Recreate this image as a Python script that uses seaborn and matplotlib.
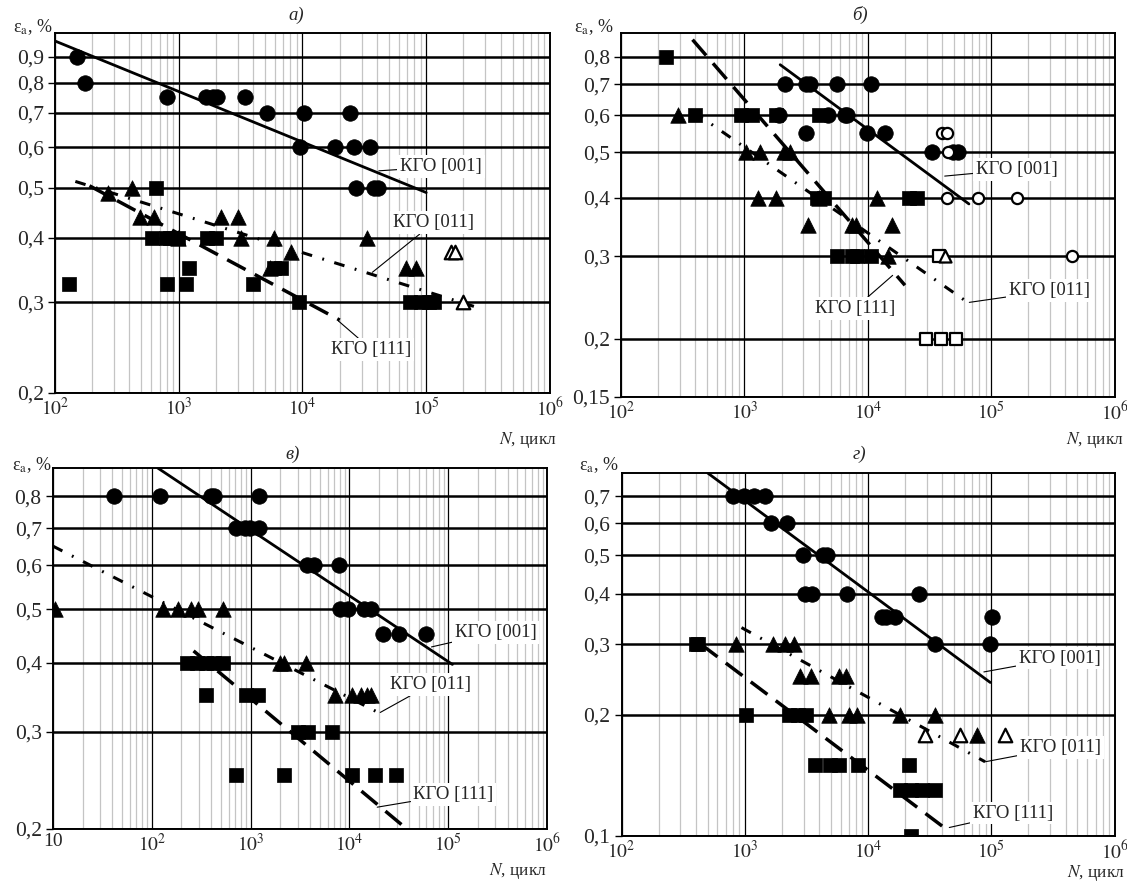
import matplotlib
matplotlib.use('Agg')
import matplotlib.pyplot as plt
import seaborn as sns
from matplotlib.ticker import FixedLocator, NullFormatter, NullLocator, LogLocator, FixedFormatter

sns.set_style('white')
plt.rcParams['font.family'] = ['Liberation Serif', 'DejaVu Serif']
plt.rcParams['mathtext.fontset'] = 'stix'

# ---------- panel a) ----------
a_circ_n = [150, 175, 800, 1650, 1900, 2050, 3450, 5150, 10300, 24000, 9600, 18300, 26000, 35000, 27000, 38000, 41000]
a_circ_e = [0.9, 0.8, 0.75, 0.75, 0.75, 0.75, 0.75, 0.7, 0.7, 0.7, 0.6, 0.6, 0.6, 0.6, 0.5, 0.5, 0.5]
a_tri_n = [270, 420, 490, 630, 2200, 3000, 980, 3200, 5900, 8100, 33000, 5500, 68000, 83000]
a_tri_e = [0.49, 0.5, 0.44, 0.44, 0.44, 0.44, 0.4, 0.4, 0.4, 0.375, 0.4, 0.35, 0.35, 0.35]
a_otri_n = [160000, 170000, 200000]
a_otri_e = [0.375, 0.375, 0.3]
a_sq_n = [660, 130, 610, 790, 850, 980, 1700, 2000, 800, 1150, 1200, 4000, 5900, 6700, 9300, 74000, 91000, 105000, 115000]
a_sq_e = [0.5, 0.325, 0.4, 0.4, 0.4, 0.4, 0.4, 0.4, 0.325, 0.325, 0.35, 0.325, 0.35, 0.35, 0.3, 0.3, 0.3, 0.3, 0.3]
a_001_n, a_001_e = [100, 100000], [0.965, 0.49]
a_011_n, a_011_e = [146, 260000], [0.515, 0.293]
a_111_n, a_111_e = [190, 20000], [0.505, 0.277]
a_yticks = [0.2, 0.3, 0.4, 0.5, 0.6, 0.7, 0.8, 0.9]

# ---------- panel б) ----------
b_circ_n = [2150, 3150, 3400, 5650, 10700, 1900, 4800, 6500, 6800, 3150, 9800, 13800, 33000, 49000, 54000]
b_circ_e = [0.7, 0.7, 0.7, 0.7, 0.7, 0.6, 0.6, 0.6, 0.6, 0.55, 0.55, 0.55, 0.5, 0.5, 0.5]
b_ocirc_n = [40000, 44000, 45000, 44000, 78000, 162000, 450000]
b_ocirc_e = [0.55, 0.55, 0.5, 0.4, 0.4, 0.4, 0.3]
b_tri_n = [290, 1040, 1350, 2100, 2350, 1280, 1820, 4000, 11800, 3300, 7450, 8000, 15800, 14700]
b_tri_e = [0.6, 0.5, 0.5, 0.5, 0.5, 0.4, 0.4, 0.4, 0.4, 0.35, 0.35, 0.35, 0.35, 0.3]
b_otri_n = [42000]
b_otri_e = [0.3]
b_sq_n = [233, 395, 940, 1150, 1820, 4000, 3900, 4400, 21500, 25000, 5600, 7500, 8200, 10700]
b_sq_e = [0.8, 0.6, 0.6, 0.6, 0.6, 0.6, 0.4, 0.4, 0.4, 0.4, 0.3, 0.3, 0.3, 0.3]
b_osq_n = [38000, 29500, 39500, 51500]
b_osq_e = [0.3, 0.2, 0.2, 0.2]
b_001_n, b_001_e = [1950, 66000], [0.77, 0.388]
b_011_n, b_011_e = [390, 66000], [0.61, 0.238]
b_111_n, b_111_e = [380, 20000], [0.871, 0.26]
b_yticks = [0.15, 0.2, 0.3, 0.4, 0.5, 0.6, 0.7, 0.8]

# ---------- panel в) ----------
c_circ_n = [42, 120, 400, 430, 1230, 710, 870, 980, 1230, 3700, 4400, 7900, 8100, 9700, 14000, 16500, 22000, 32000, 59000]
c_circ_e = [0.8, 0.8, 0.8, 0.8, 0.8, 0.7, 0.7, 0.7, 0.7, 0.6, 0.6, 0.6, 0.5, 0.5, 0.5, 0.5, 0.45, 0.45, 0.45]
c_tri_n = [10.5, 130, 185, 250, 295, 530, 2000, 2200, 3600, 7200, 10500, 13000, 15000, 16500]
c_tri_e = [0.5, 0.5, 0.5, 0.5, 0.5, 0.5, 0.4, 0.4, 0.4, 0.35, 0.35, 0.35, 0.35, 0.35]
c_sq_n = [230, 290, 350, 430, 530, 355, 900, 1180, 3000, 3800, 6600, 720, 2200, 10500, 18000, 29500]
c_sq_e = [0.4, 0.4, 0.4, 0.4, 0.4, 0.35, 0.35, 0.35, 0.3, 0.3, 0.3, 0.25, 0.25, 0.25, 0.25, 0.25]
c_001_n, c_001_e = [115, 110000], [0.9, 0.397]
c_011_n, c_011_e = [10, 19500], [0.65, 0.325]
c_111_n, c_111_e = [265, 38000], [0.42, 0.2]
c_yticks = [0.2, 0.3, 0.4, 0.5, 0.6, 0.7, 0.8]

# ---------- panel г) ----------
d_circ_n = [800, 980, 1180, 1470, 1630, 2200, 2950, 4300, 4650, 3100, 3500, 6700, 26000, 13000, 14000, 16600, 102000, 35000, 98000]
d_circ_e = [0.7, 0.7, 0.7, 0.7, 0.6, 0.6, 0.5, 0.5, 0.5, 0.4, 0.4, 0.4, 0.4, 0.35, 0.35, 0.35, 0.35, 0.3, 0.3]
d_tri_n = [850, 1700, 2100, 2500, 2800, 3450, 5800, 6600, 4800, 7000, 8100, 18000, 35000, 76000]
d_tri_e = [0.3, 0.3, 0.3, 0.3, 0.25, 0.25, 0.25, 0.25, 0.2, 0.2, 0.2, 0.2, 0.2, 0.178]
d_otri_n = [29000, 56000, 130000]
d_otri_e = [0.178, 0.178, 0.178]
d_sq_n = [400, 420, 1020, 2300, 2700, 3150, 3700, 4900, 5800, 8300, 21500, 18000, 22500, 27500, 35000, 22500]
d_sq_e = [0.3, 0.3, 0.2, 0.2, 0.2, 0.2, 0.15, 0.15, 0.15, 0.15, 0.15, 0.13, 0.13, 0.13, 0.13, 0.1]
d_001_n, d_001_e = [500, 98000], [0.8, 0.241]
d_011_n, d_011_e = [940, 89000], [0.33, 0.153]
d_111_n, d_111_e = [440, 44000], [0.30, 0.1035]
d_yticks = [0.1, 0.2, 0.3, 0.4, 0.5, 0.6, 0.7]

DASHED = (0, (6, 3))
DASHDOT = (0, (3.5, 3.5, 0.6, 3.5))


def pts(ax, n, e, marker, s, filled=True):
    if filled:
        sns.scatterplot(x=n, y=e, ax=ax, marker=marker, s=s, color='k',
                        edgecolor='k', linewidth=0.5, legend=False, zorder=4)
    else:
        sns.scatterplot(x=n, y=e, ax=ax, marker=marker, s=s, color='white',
                        edgecolor='k', linewidth=1.6, legend=False, zorder=4)


def line(ax, n, e, ls, lw):
    sns.lineplot(x=n, y=e, ax=ax, color='k', lw=lw, linestyle=ls, zorder=3)


def label(ax, txt, xy, xytext):
    ax.annotate(txt, xy=xy, xytext=xytext, fontsize=13.5, ha='center', va='center',
                bbox=dict(fc='white', ec='none', pad=2),
                arrowprops=dict(arrowstyle='-', color='k', lw=0.8, shrinkA=0, shrinkB=0),
                zorder=6)


def setup(ax, xlim, ylim, yticks):
    ax.set_xscale('log')
    ax.set_yscale('log')
    ax.set_xlim(*xlim)
    ax.set_ylim(*ylim)
    ax.set_axisbelow(True)
    ax.yaxis.set_major_locator(FixedLocator(yticks))
    ax.yaxis.set_major_formatter(FixedFormatter([f'{v:g}'.replace('.', ',') for v in yticks]))
    ax.yaxis.set_minor_locator(NullLocator())
    ax.yaxis.set_minor_formatter(NullFormatter())
    xt = [10 ** k for k in range(1, 7) if xlim[0] <= 10 ** k <= xlim[1]]
    ax.xaxis.set_major_locator(FixedLocator(xt))
    ax.xaxis.set_major_formatter(FixedFormatter(['10' if v == 10 else f'$10^{{{len(str(v)) - 1}}}$' for v in xt]))
    ax.xaxis.set_minor_locator(LogLocator(base=10, subs=range(2, 10), numticks=20))
    ax.xaxis.set_minor_formatter(NullFormatter())
    ax.grid(axis='x', which='minor', color='#c4c4c4', lw=0.9)
    ax.grid(axis='x', which='major', color='k', lw=0.9)
    ax.grid(axis='y', which='major', color='k', lw=1.8)
    ax.tick_params(axis='y', which='major', length=5, width=1, color='k', labelsize=15.5, pad=3, left=True)
    ax.tick_params(axis='x', which='both', length=0, labelsize=14, pad=3)
    for sp in ax.spines.values():
        sp.set_color('k')
        sp.set_linewidth(1.4)
    ax.set_xlabel('')
    ax.set_ylabel('')


fig = plt.figure(figsize=(11.27, 8.83), dpi=100)
ax_a = fig.add_axes([0.0488, 0.555, 0.4392, 0.4076])
ax_b = fig.add_axes([0.551, 0.5504, 0.438, 0.4122])
ax_c = fig.add_axes([0.0469, 0.0612, 0.4386, 0.4088])
ax_d = fig.add_axes([0.5515, 0.0532, 0.4375, 0.4111])

MS_C, MS_T, MS_S = 125, 125, 105

# a)
setup(ax_a, (100, 1e6), (0.2, 1.0), a_yticks)
line(ax_a, a_001_n, a_001_e, '-', 2.0)
line(ax_a, a_011_n, a_011_e, DASHDOT, 2.2)
line(ax_a, a_111_n, a_111_e, DASHED, 2.5)
pts(ax_a, a_circ_n, a_circ_e, 'o', MS_C)
pts(ax_a, a_tri_n, a_tri_e, '^', MS_T)
pts(ax_a, a_sq_n, a_sq_e, 's', MS_S)
pts(ax_a, a_otri_n, a_otri_e, '^', 95, filled=False)
setup(ax_a, (100, 1e6), (0.2, 1.0), a_yticks)
label(ax_a, 'КГО [001]', (41400, 0.54), (132000, 0.55))
label(ax_a, 'КГО [011]', (36700, 0.343), (115000, 0.428))
label(ax_a, 'КГО [111]', (19500, 0.276), (36000, 0.243))

# б)
setup(ax_b, (100, 1e6), (0.15, 0.9), b_yticks)
line(ax_b, b_001_n, b_001_e, '-', 2.0)
line(ax_b, b_011_n, b_011_e, DASHDOT, 2.2)
line(ax_b, b_111_n, b_111_e, DASHED, 2.5)
pts(ax_b, b_circ_n, b_circ_e, 'o', MS_C)
pts(ax_b, b_tri_n, b_tri_e, '^', MS_T)
pts(ax_b, b_sq_n, b_sq_e, 's', MS_S)
pts(ax_b, b_ocirc_n, b_ocirc_e, 'o', 65, filled=False)
pts(ax_b, b_osq_n, b_osq_e, 's', 75, filled=False)
pts(ax_b, b_otri_n, b_otri_e, '^', 75, filled=False)
setup(ax_b, (100, 1e6), (0.15, 0.9), b_yticks)
label(ax_b, 'КГО [001]', (42000, 0.445), (162000, 0.46))
label(ax_b, 'КГО [111]', (15900, 0.273), (7850, 0.232))
label(ax_b, 'КГО [011]', (66500, 0.239), (296000, 0.253))

# в)
setup(ax_c, (10, 1e6), (0.2, 0.9), c_yticks)
line(ax_c, c_001_n, c_001_e, '-', 2.0)
line(ax_c, c_011_n, c_011_e, DASHDOT, 2.2)
line(ax_c, c_111_n, c_111_e, DASHED, 2.5)
pts(ax_c, c_circ_n, c_circ_e, 'o', MS_C)
pts(ax_c, c_tri_n, c_tri_e, '^', MS_T)
pts(ax_c, c_sq_n, c_sq_e, 's', MS_S)
setup(ax_c, (10, 1e6), (0.2, 0.9), c_yticks)
label(ax_c, 'КГО [001]', (67600, 0.427), (302000, 0.454))
label(ax_c, 'КГО [011]', (20500, 0.325), (66000, 0.365))
label(ax_c, 'КГО [111]', (19100, 0.219), (113000, 0.231))

# г)
setup(ax_d, (100, 1e6), (0.1, 0.8), d_yticks)
line(ax_d, d_001_n, d_001_e, '-', 2.0)
line(ax_d, d_011_n, d_011_e, DASHDOT, 2.2)
line(ax_d, d_111_n, d_111_e, DASHED, 2.5)
pts(ax_d, d_circ_n, d_circ_e, 'o', MS_C)
pts(ax_d, d_tri_n, d_tri_e, '^', MS_T)
pts(ax_d, d_sq_n, d_sq_e, 's', MS_S)
pts(ax_d, d_otri_n, d_otri_e, '^', 95, filled=False)
setup(ax_d, (100, 1e6), (0.1, 0.8), d_yticks)
label(ax_d, 'КГО [001]', (87000, 0.256), (357000, 0.277))
label(ax_d, 'КГО [011]', (89000, 0.153), (363000, 0.166))
label(ax_d, 'КГО [111]', (45600, 0.105), (151000, 0.114))

# titles and axis captions
for x, y, t in [(0.263, 0.983, 'а)'), (0.763, 0.983, 'б)'), (0.26, 0.485, 'в)'), (0.763, 0.485, 'г)')]:
    fig.text(x, y, t, fontsize=13.5, fontstyle='italic', ha='center', va='center')
for x, y in [(0.029, 0.969), (0.527, 0.969), (0.028, 0.473), (0.531, 0.473)]:
    fig.text(x, y, r'ε$_{\mathrm{a}}$, %', fontsize=13, ha='center', va='center')
for x, y in [(0.494, 0.502), (0.997, 0.502), (0.485, 0.002), (0.998, 0.0)]:
    fig.text(x, y, r'$N$, цикл', fontsize=12.5, ha='right', va='bottom' if y < 0.1 else 'center')

fig.savefig('out.png', dpi=100, facecolor='white')
